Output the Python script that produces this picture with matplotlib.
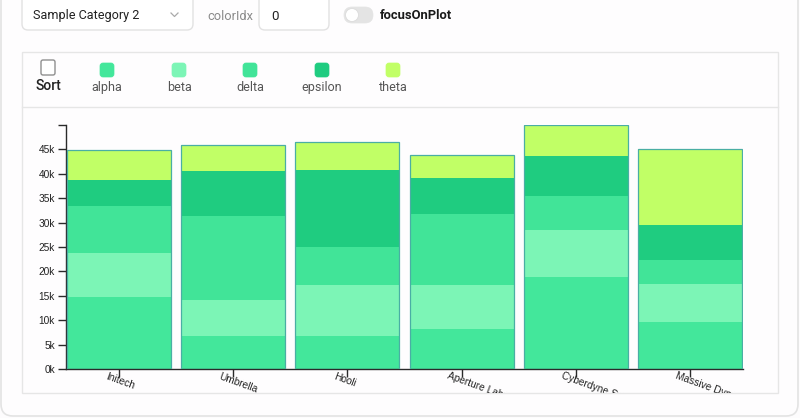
import matplotlib
matplotlib.use("Agg")
import matplotlib.pyplot as plt
import numpy as np
from matplotlib.patches import FancyBboxPatch, Circle, Rectangle
from matplotlib.transforms import ScaledTranslation, Bbox, TransformedBbox

# ---------------- data ----------------
categories = ["Initech", "Umbrella", "Hooli", "Aperture Labs", "Cyberdyne Systems", "Massive Dynamic"]
series_names = ["alpha", "beta", "delta", "epsilon", "theta"]
alpha = [14850, 6700, 6800, 8100, 18900, 9550]
beta = [8850, 7500, 10500, 9200, 9650, 7950]
delta = [9700, 17200, 7600, 14400, 6950, 4900]
epsilon = [5300, 9200, 15950, 7500, 8200, 7100]
theta = [6150, 5300, 5750, 4700, 6200, 15550]
series_colors = ["#43e79b", "#7cf5b6", "#41e498", "#1fcc80", "#c1ff66"]
y_ticks = [0, 5000, 10000, 15000, 20000, 25000, 30000, 35000, 40000, 45000]
y_tick_labels = ["0k", "5k", "10k", "15k", "20k", "25k", "30k", "35k", "40k", "45k"]
y_max = 50000

W, H = 800, 418
fig = plt.figure(figsize=(W / 100, H / 100), dpi=100)
fig.patch.set_facecolor("#fdfcfd")

ui_font = ["Roboto", "DejaVu Sans"]
ax_font = ["Liberation Sans", "DejaVu Sans"]

# ---------------- UI overlay ----------------
ui = fig.add_axes([0, 0, 1, 1], zorder=0)
ui.set_xlim(0, W)
ui.set_ylim(H, 0)
ui.axis("off")

def rbox(x0, y0, x1, y1, r, fc, ec, lw=1.0, z=1):
    p = FancyBboxPatch((x0, y0), x1 - x0, y1 - y0,
                       boxstyle=f"round,pad=0,rounding_size={r}",
                       fc=fc, ec=ec, lw=lw, zorder=z)
    ui.add_patch(p)
    return p

# outer card
rbox(1, -30, 798, 416, 12, "#fefdfe", "#e3e3e3", 1.2)
# dropdown
rbox(22, -10, 193, 30, 6, "#ffffff", "#e2e2e2", 1.0, 2)
ui.text(33, 16, "Sample Category 2", fontsize=9.1, color="#222222",
        va="center", ha="left", family=ui_font, zorder=3)
ui.plot([171, 174.5, 178], [13, 16.5, 13], color="#aaaaaa", lw=0.9, zorder=3)
ui.text(207, 16, "colorIdx", fontsize=9.2, color="#8a8a8a",
        va="center", ha="left", family=ui_font, zorder=3)
rbox(259, -10, 329, 30, 6, "#ffffff", "#e2e2e2", 1.0, 2)
ui.text(271, 16, "0", fontsize=9.6, color="#222222",
        va="center", ha="left", family=ui_font, zorder=3)
# toggle
rbox(344, 7, 373, 23, 8, "#e4e4e4", "#e4e4e4", 0.5, 2)
ui.add_patch(Circle((352, 15), 6.5, fc="#ffffff", ec="#dcdcdc", lw=0.6, zorder=3))
ui.text(380, 15.5, "focusOnPlot", fontsize=9.4, color="#1a1a1a", fontweight="bold",
        va="center", ha="left", family=ui_font, zorder=3)

# inner panel
ui.add_patch(Rectangle((22, 52), 756, 341, fc="#fefdfe", ec="#e6e6e6", lw=1.0, zorder=1))
ui.plot([22, 778], [107, 107], color="#e6e6e6", lw=1.0, zorder=2)

# sort checkbox
rbox(41, 60, 55, 75, 2, "#ffffff", "#8f8f8f", 1.0, 2)
ui.text(48, 86, "Sort", fontsize=10.0, color="#222222", fontweight="medium",
        va="center", ha="center", family=ui_font, zorder=3)

# legend swatches
leg_x = [107, 179, 250, 322, 393]
for cx, name, col in zip(leg_x, series_names, series_colors):
    rbox(cx - 7, 63, cx + 7, 77, 3, col, col, 0.5, 2)
    ui.text(cx, 87.5, name, fontsize=9.0, color="#555555",
            va="center", ha="center", family=ui_font, zorder=3)

# ---------------- chart ----------------
ax = fig.add_axes([66 / W, (H - 369) / H, 677 / W, 244 / H], zorder=2)
ax.set_facecolor("none")
x = np.arange(len(categories))
bw = 104 / 114
bottom = np.zeros(len(categories))
for vals, col in zip([alpha, beta, delta, epsilon, theta], series_colors):
    ax.bar(x, vals, width=bw, bottom=bottom, color=col, edgecolor="none", zorder=2)
    bottom = bottom + np.array(vals)
ax.bar(x, bottom, width=bw, fill=False, edgecolor="#4aaea4", lw=0.9, zorder=3)

ax.set_xlim(-0.469, 5.469)
ax.set_ylim(0, y_max)

for s in ["top", "right"]:
    ax.spines[s].set_visible(False)
for s in ["left", "bottom"]:
    ax.spines[s].set_color("#2a2a2a")
    ax.spines[s].set_linewidth(1.0)

ax.set_yticks(y_ticks)
ax.set_yticklabels(y_tick_labels)
ax.set_yticks([y_max], minor=True)
ax.tick_params(axis="y", which="both", length=6, width=1, color="#2a2a2a",
               labelsize=7.3, labelcolor="#222222", pad=2)
for lbl in ax.get_yticklabels():
    lbl.set_family(ax_font)

ax.set_xticks(x)
ax.set_xticklabels([])
ax.tick_params(axis="x", length=6, width=1, color="#2a2a2a")

clip = TransformedBbox(Bbox.from_extents(22 / W, 25 / H, 778 / W, 311 / H), fig.transFigure)
off = ScaledTranslation(-12 / 100, -2 / 100, fig.dpi_scale_trans)
for xi, name in zip(x, categories):
    t = ax.text(xi, 0, name, transform=ax.get_xaxis_transform() + off,
                rotation=-20, rotation_mode="anchor", ha="left", va="top",
                fontsize=7.3, color="#222222", family=ax_font, clip_on=True)
    t.set_clip_box(clip)

fig.savefig("out.png", dpi=100, facecolor=fig.get_facecolor())
